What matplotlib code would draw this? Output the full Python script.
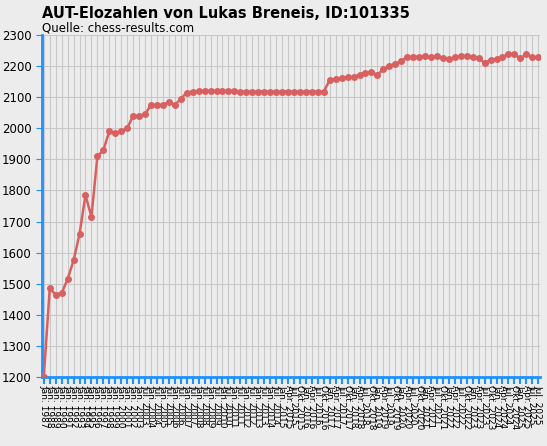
import matplotlib
matplotlib.use("Agg")
import matplotlib.pyplot as plt

ratings = [1200,1485,1465,1470,1515,1575,1660,1785,1715,1910,1930,1990,1985,1990,2000,2040,2040,2045,2075,2075,2075,2085,2075,2095,2115,
           2118,2120,2120,2120,2120,2120,2120,2120,
           2118,2118,2118,2118,2118,2118,2118,2118,2118,2118,2118,2118,2118,2118,2118,
           2155,2158,2162,2165,2165,2172,2178,2180,2172,2190,2200,2208,2215,2230,2230,2230,2232,2228,2232,2225,
           2222,2228,2232,2232,2228,2225,2210,2220,2222,2228,2240,2238,2225,2238,2228,2228]

months = ["Jan.", "Apr.", "Jul.", "Okt."]
labels = [f"Jan. {y}" for y in range(1987, 2004)]
for y in range(2003, 2015):
    labels += [f"Jul. {y}", f"Jan. {y+1}"]
q = []
for y in range(2015, 2027):
    for m in months:
        q.append(f"{m} {y}")
labels += q[1:]
labels = labels[:len(ratings) - 1] + ["Jul. 2025"]

fig = plt.figure(figsize=(5.47, 4.46), dpi=100, facecolor="#ececec")
ax = fig.add_axes([42/547, 1-377/446, 498/547, 342/446])
ax.set_facecolor("#ececec")
x = list(range(len(ratings)))
ax.plot(x, ratings, color="#d96060", lw=1.8, marker="o", ms=4, zorder=3)
ax.set_ylim(1200, 2300)
ax.set_xlim(-0.3, len(ratings) - 0.7)
ax.set_yticks(range(1200, 2301, 100))
ax.set_xticks(x)
ax.set_xticklabels(labels, rotation=-90, fontsize=6.5)
ax.tick_params(axis="y", labelsize=8.5, color="#1e90ff", length=4)
ax.tick_params(axis="x", color="#1e90ff", length=5, width=1.5, pad=1)
ax.grid(True, color="#c8c8c8", lw=0.8)
for s in ["top", "right"]:
    ax.spines[s].set_visible(False)
ax.spines["left"].set_color("#1e90ff"); ax.spines["left"].set_linewidth(2)
ax.spines["bottom"].set_color("#1e90ff"); ax.spines["bottom"].set_linewidth(2)
fig.text(42/547, 1-13/446, "AUT-Elozahlen von Lukas Breneis, ID:101335", fontsize=10.5, fontweight="bold", va="center")
fig.text(42/547, 1-28/446, "Quelle: chess-results.com", fontsize=8.5, va="center")
fig.savefig("out.png", dpi=100, facecolor=fig.get_facecolor())
